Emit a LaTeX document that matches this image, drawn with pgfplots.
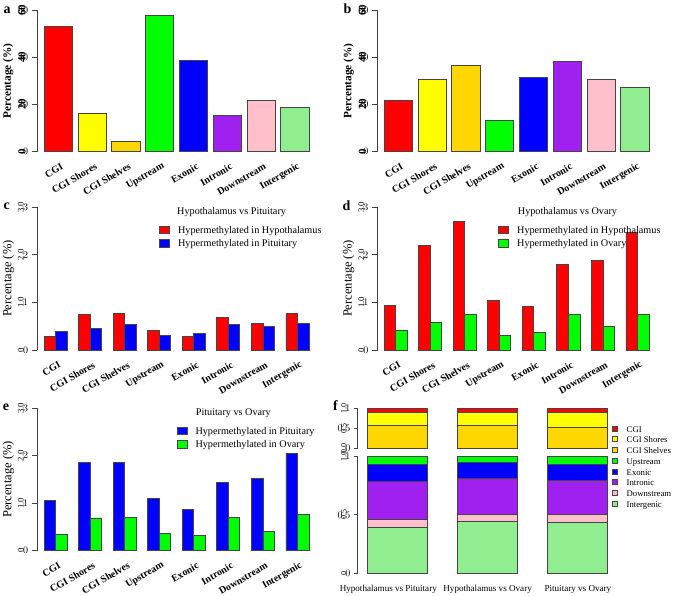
\documentclass[border=0pt]{standalone}
\usepackage{pgfplots}
\pgfplotsset{compat=1.18}
\usepackage{fontspec}
\setmainfont{Liberation Serif}
\definecolor{cRed}{HTML}{FF0000}
\definecolor{cYel}{HTML}{FFFF00}
\definecolor{cGold}{HTML}{FFD700}
\definecolor{cGreen}{HTML}{00FF00}
\definecolor{cBlue}{HTML}{0000FF}
\definecolor{cPurple}{HTML}{A020F0}
\definecolor{cPink}{HTML}{FFC0CB}
\definecolor{cLGreen}{HTML}{90EE90}
\definecolor{edge}{HTML}{454545}
\definecolor{axc}{HTML}{404040}
\newcommand{\fA}{\bfseries\fontsize{11}{13}\selectfont}
\newcommand{\fC}{\fontsize{8.6}{10}\selectfont}
\newcommand{\fF}{\fontsize{8}{10}\selectfont}
% y tick label: {x}{y}{text}{font}
\newcommand{\ytl}[4]{\node[anchor=east, inner sep=0pt, font=#4] at (axis cs:#1,#2) {\rotatebox{90}{#3}};}
\pgfplotsset{
  rbase/.style={
    scale only axis, anchor=south west, clip=false, enlargelimits=false,
    axis x line*=bottom, axis y line*=left,
    x axis line style={draw=none},
    y axis line style={draw=axc, line width=0.8pt},
    major x tick style={draw=none},
    ytick style={draw=axc, line width=0.8pt},
    tick align=outside, major tick length=5.7pt,
    yticklabel={},
    every axis y label/.style={rotate=90, anchor=center},
  },
  catx/.style={
    xtick={0,...,7},
    xticklabels={CGI,CGI Shores,CGI Shelves,Upstream,Exonic,Intronic,Downstream,Intergenic},
    xticklabel style={xshift=4pt, yshift=-8.3pt, rotate=30, anchor=east, inner sep=0pt, font=\bfseries\fontsize{10}{12}\selectfont},
  },
  bb/.style={draw=edge, line width=0.9pt, bar shift=0},
  boxleg/.style={legend image code/.code={\draw[##1, line width=0.8pt] (0pt,0pt) rectangle (10pt,7.5pt); \path (18pt,0pt);}},
  rleg/.style={
    legend style={draw=none, fill=none, inner sep=0pt, outer sep=0pt,
      row sep={13.2pt,between origins}, column sep=0pt,
      cells={anchor=base west}, nodes={inner sep=0pt, anchor=base west},
      font=\fontsize{10.2}{12}\selectfont, anchor=north west},
  },
}
\begin{document}
\begin{tikzpicture}
\useasboundingbox (0pt,0pt) rectangle (675pt,-596pt);
% ---------------- a
\begin{axis}[rbase, catx, at={(37.3pt,-151.7pt)}, width=278pt, height=141.7pt,
  xmin=-0.6237, xmax=7.6, ymin=0, ymax=60, ybar, bar width=0.833,
  ytick={0,20,40,60},
  ylabel={Percentage (\%)},
  ylabel style={font=\bfseries\fontsize{11.3}{13}\selectfont, at={(axis description cs:-0.1043,0.5)}}]
\addplot[bb, fill=cRed] coordinates {(0,53.2)};
\addplot[bb, fill=cYel] coordinates {(1,16.1)};
\addplot[bb, fill=cGold] coordinates {(2,4.2)};
\addplot[bb, fill=cGreen] coordinates {(3,57.6)};
\addplot[bb, fill=cBlue] coordinates {(4,38.5)};
\addplot[bb, fill=cPurple] coordinates {(5,15.5)};
\addplot[bb, fill=cPink] coordinates {(6,21.7)};
\addplot[bb, fill=cLGreen] coordinates {(7,18.9)};
\ytl{-0.958}{0}{0}{\fA}
\ytl{-0.958}{20}{20}{\fA}
\ytl{-0.958}{40}{40}{\fA}
\ytl{-0.958}{60}{60}{\fA}
\end{axis}
% ---------------- b
\begin{axis}[rbase, catx, at={(377.7pt,-151.7pt)}, width=277.6pt, height=141.7pt,
  xmin=-0.6118, xmax=7.6, ymin=0, ymax=60, ybar, bar width=0.833,
  ytick={0,20,40,60},
  ylabel={Percentage (\%)},
  ylabel style={font=\bfseries\fontsize{11.3}{13}\selectfont, at={(axis description cs:-0.1045,0.5)}}]
\addplot[bb, fill=cRed] coordinates {(0,21.9)};
\addplot[bb, fill=cYel] coordinates {(1,30.7)};
\addplot[bb, fill=cGold] coordinates {(2,36.6)};
\addplot[bb, fill=cGreen] coordinates {(3,13.3)};
\addplot[bb, fill=cBlue] coordinates {(4,31.3)};
\addplot[bb, fill=cPurple] coordinates {(5,38.4)};
\addplot[bb, fill=cPink] coordinates {(6,30.7)};
\addplot[bb, fill=cLGreen] coordinates {(7,27.1)};
\ytl{-0.9461}{0}{0}{\fA}
\ytl{-0.9461}{20}{20}{\fA}
\ytl{-0.9461}{40}{40}{\fA}
\ytl{-0.9461}{60}{60}{\fA}
\end{axis}
% ---------------- c
\begin{axis}[rbase, catx, rleg, at={(37.3pt,-350pt)}, width=280.9pt, height=142.7pt,
  xmin=-0.536, xmax=7.6, ymin=0, ymax=3, ybar, bar width=0.33333,
  ytick={0,1,2,3},
  ylabel={Percentage (\%)},
  ylabel style={font=\fontsize{12.5}{14}\selectfont, at={(axis description cs:-0.1032,0.5)}},
  legend style={at={(axis cs:2.997,2.611)}}]
\addplot[bb, boxleg, fill=cRed, bar shift=-0.166667] coordinates {(0,0.28) (1,0.74) (2,0.76) (3,0.41) (4,0.29) (5,0.69) (6,0.56) (7,0.76)};
\addlegendentry{Hypermethylated in Hypothalamus}
\addplot[bb, boxleg, fill=cBlue, bar shift=0.166667] coordinates {(0,0.38) (1,0.45) (2,0.53) (3,0.31) (4,0.34) (5,0.53) (6,0.50) (7,0.55)};
\addlegendentry{Hypermethylated in Pituitary}
\node[anchor=base west, inner sep=0pt, font=\fontsize{10.2}{12}\selectfont] at (axis cs:3.510,2.848) {Hypothalamus vs Pituitary};
\ytl{-0.921}{0}{0}{\fC}
\ytl{-0.921}{1}{1.0}{\fC}
\ytl{-0.921}{2}{2.0}{\fC}
\ytl{-0.921}{3}{3.0}{\fC}
\end{axis}
% ---------------- d
\begin{axis}[rbase, catx, rleg, at={(377.7pt,-350pt)}, width=280.5pt, height=142.7pt,
  xmin=-0.5245, xmax=7.6, ymin=0, ymax=3, ybar, bar width=0.33333,
  ytick={0,1,2,3},
  ylabel={Percentage (\%)},
  ylabel style={font=\fontsize{12.5}{14}\selectfont, at={(axis description cs:-0.1034,0.5)}},
  legend style={at={(axis cs:2.968,2.611)}}]
\addplot[bb, boxleg, fill=cRed, bar shift=-0.166667] coordinates {(0,0.93) (1,2.19) (2,2.70) (3,1.04) (4,0.91) (5,1.80) (6,1.89) (7,2.48)};
\addlegendentry{Hypermethylated in Hypothalamus}
\addplot[bb, boxleg, fill=cGreen, bar shift=0.166667] coordinates {(0,0.42) (1,0.58) (2,0.74) (3,0.31) (4,0.36) (5,0.74) (6,0.50) (7,0.74)};
\addlegendentry{Hypermethylated in Ovary}
\node[anchor=base west, inner sep=0pt, font=\fontsize{10.2}{12}\selectfont] at (axis cs:3.530,2.853) {Hypothalamus vs Ovary};
\ytl{-0.9097}{0}{0}{\fC}
\ytl{-0.9097}{1}{1.0}{\fC}
\ytl{-0.9097}{2}{2.0}{\fC}
\ytl{-0.9097}{3}{3.0}{\fC}
\end{axis}
% ---------------- e
\begin{axis}[rbase, catx, rleg, at={(37.3pt,-550.7pt)}, width=280.9pt, height=142.4pt,
  xmin=-0.536, xmax=7.6, ymin=0, ymax=3, ybar, bar width=0.33333,
  ytick={0,1,2,3},
  ylabel={Percentage (\%)},
  ylabel style={font=\fontsize{12.5}{14}\selectfont, at={(axis description cs:-0.1032,0.5)}},
  legend style={at={(axis cs:3.501,2.610)}}]
\addplot[bb, boxleg, fill=cBlue, bar shift=-0.166667] coordinates {(0,1.05) (1,1.85) (2,1.86) (3,1.11) (4,0.87) (5,1.43) (6,1.53) (7,2.05)};
\addlegendentry{Hypermethylated in Pituitary}
\addplot[bb, boxleg, fill=cGreen, bar shift=0.166667] coordinates {(0,0.35) (1,0.69) (2,0.70) (3,0.37) (4,0.33) (5,0.71) (6,0.41) (7,0.76)};
\addlegendentry{Hypermethylated in Ovary}
\node[anchor=base west, inner sep=0pt, font=\fontsize{10.2}{12}\selectfont] at (axis cs:4.051,2.838) {Pituitary vs Ovary};
\ytl{-0.921}{0}{0}{\fC}
\ytl{-0.921}{1}{1.0}{\fC}
\ytl{-0.921}{2}{2.0}{\fC}
\ytl{-0.921}{3}{3.0}{\fC}
\end{axis}
% ---------------- f upper
\begin{axis}[rbase, at={(357.7pt,-448pt)}, width=274.4pt, height=39.5pt,
  xmin=-0.4385, xmax=2.6, ymin=0, ymax=1, ybar stacked, bar width=0.6645,
  xtick=\empty, major tick length=3.7pt,
  ytick={0,0.5,1}]
\addplot[draw=edge, line width=0.9pt, fill=cGold] coordinates {(0,0.56) (1,0.56) (2,0.53)};
\addplot[draw=edge, line width=0.9pt, fill=cYel] coordinates {(0,0.33) (1,0.35) (2,0.36)};
\addplot[draw=edge, line width=0.9pt, fill=cRed] coordinates {(0,0.11) (1,0.09) (2,0.11)};
\ytl{-0.5603}{0}{0.0}{\fF}
\ytl{-0.5603}{0.5}{0.5}{\fF}
\ytl{-0.5603}{1}{1.0}{\fF}
\end{axis}
% ---------------- f lower
\begin{axis}[rbase, at={(357.7pt,-573pt)}, width=274.4pt, height=116.3pt,
  xmin=-0.4385, xmax=2.6, ymin=0, ymax=1, ybar stacked, bar width=0.6645,
  major tick length=3.7pt,
  xtick={0,1,2}, xticklabels={Hypothalamus vs Pituitary\hspace*{18pt},Hypothalamus vs Ovary,Pituitary vs Ovary},
  xticklabel style={anchor=base, inner sep=0pt, font=\fontsize{9.1}{11}\selectfont}, xticklabel shift=14.3pt,
  ytick={0,0.5,1}]
\addplot[draw=edge, line width=0.9pt, fill=cLGreen] coordinates {(0,0.390) (1,0.447) (2,0.438)};
\addplot[draw=edge, line width=0.9pt, fill=cPink] coordinates {(0,0.072) (1,0.057) (2,0.063)};
\addplot[draw=edge, line width=0.9pt, fill=cPurple] coordinates {(0,0.329) (1,0.306) (2,0.297)};
\addplot[draw=edge, line width=0.9pt, fill=cBlue] coordinates {(0,0.146) (1,0.143) (2,0.132)};
\addplot[draw=edge, line width=0.9pt, fill=cGreen] coordinates {(0,0.063) (1,0.047) (2,0.070)};
\ytl{-0.5603}{0}{0}{\fF}
\ytl{-0.5603}{0.5}{0.5}{\fF}
\ytl{-0.5603}{1}{1.0}{\fF}
\end{axis}
% ---------------- f legend
\begin{axis}[hide axis, scale only axis, width=10pt, height=10pt, anchor=north west,
  at={(611.7pt,-425.7pt)}, xmin=0, xmax=1, ymin=0, ymax=1,
  legend style={draw=none, fill=none, inner sep=0pt, outer sep=0pt,
      row sep={10.75pt,between origins}, column sep=0pt,
      cells={anchor=base west}, nodes={inner sep=0pt, anchor=base west},
      font=\fontsize{8.7}{10}\selectfont, at={(0,1)}, anchor=north west},
  legend image code/.code={\draw[#1] (0pt,1pt) rectangle (5.5pt,6pt); \path (14.3pt,0pt);}]
\addlegendimage{fill=cRed, draw=edge, line width=0.7pt}\addlegendentry{CGI}
\addlegendimage{fill=cYel, draw=edge, line width=0.7pt}\addlegendentry{CGI Shores}
\addlegendimage{fill=cGold, draw=edge, line width=0.7pt}\addlegendentry{CGI Shelves}
\addlegendimage{fill=cGreen, draw=edge, line width=0.7pt}\addlegendentry{Upstream}
\addlegendimage{fill=cBlue, draw=edge, line width=0.7pt}\addlegendentry{Exonic}
\addlegendimage{fill=cPurple, draw=edge, line width=0.7pt}\addlegendentry{Intronic}
\addlegendimage{fill=cPink, draw=edge, line width=0.7pt}\addlegendentry{Downstream}
\addlegendimage{fill=cLGreen, draw=edge, line width=0.7pt}\addlegendentry{Intergenic}
\end{axis}
% ---------------- panel letters
\begin{scope}[every node/.style={anchor=base west, inner sep=0pt, font=\bfseries\fontsize{14}{16}\selectfont}]
\node at (3.3pt,-14pt) {a};
\node at (343.3pt,-13.3pt) {b};
\node at (3.3pt,-209.3pt) {c};
\node at (342.3pt,-210.7pt) {d};
\node at (2.7pt,-410.7pt) {e};
\node at (333pt,-410pt) {f};
\end{scope}
\end{tikzpicture}
\end{document}
